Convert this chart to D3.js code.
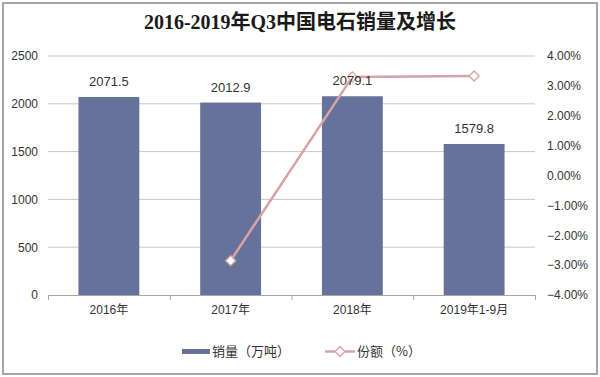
<!DOCTYPE html>
<html><head><meta charset="utf-8">
<script src="https://cdn.jsdelivr.net/npm/d3@7"></script>
<style>body{margin:0;background:#fff}svg{display:block}</style>
</head><body>
<svg id="c" width="600" height="377"></svg>
<script>
const categories = ["2016年","2017年","2018年","2019年1-9月"];
const sales = [2071.5, 2012.9, 2079.1, 1579.8];
const share = [null, -2.85, 3.30, 3.33];
const leftTicks = [0,500,1000,1500,2000,2500];
const rightTicks = [-4,-3,-2,-1,0,1,2,3,4];
const title = "2016-2019年Q3中国电石销量及增长";
const legendBar = "销量（万吨）";
const legendLine = "份额（%）";

const svg = d3.select("#c");
const W=600,H=377;
const L=48,R=535,T=56,B=295;
const barColor="#67729a", lineColor="#d9a3a5", gridColor="#c8c8c8";
const sans="Arial, 'Liberation Sans', 'Noto Sans CJK SC', sans-serif";

svg.append("rect").attr("x",3).attr("y",3).attr("width",W-6).attr("height",H-6)
  .attr("fill","#fff").attr("stroke","#a6a6a6").attr("stroke-width",2);

svg.append("text").attr("x",300).attr("y",29).attr("text-anchor","middle")
  .attr("font-family","'Liberation Serif','Noto Sans CJK SC',serif").attr("font-weight","bold")
  .attr("font-size",20).attr("fill","#1a1a1a").text(title);

const x = d3.scaleBand().domain(categories).range([L,R]).paddingInner(0.5).paddingOuter(0.25);
const xb = d3.scaleBand().domain(categories).range([L,R]);
const y = d3.scaleLinear().domain([0,2500]).range([B,T]);
const y2 = d3.scaleLinear().domain([-4,4]).range([B,T]);

// gridlines
svg.append("g").selectAll("line").data(leftTicks.filter(d=>d>0)).join("line")
  .attr("x1",L).attr("x2",R).attr("y1",d=>y(d)).attr("y2",d=>y(d))
  .attr("stroke",gridColor).attr("stroke-width",1);

// left axis labels
const ly = d3.axisLeft(y).tickValues(leftTicks).tickSize(0).tickPadding(10).tickFormat(d3.format("d"));
const gl = svg.append("g").attr("transform",`translate(${L},0)`).call(ly);
gl.select(".domain").remove();
gl.selectAll("text").attr("font-family",sans).attr("font-size",12).attr("fill","#333");

// right axis labels
const ry = d3.axisRight(y2).tickValues(rightTicks).tickSize(0).tickPadding(12)
  .tickFormat(d=>d3.format(".2f")(d)+"%");
const gr = svg.append("g").attr("transform",`translate(${R},0)`).call(ry);
gr.select(".domain").remove();
gr.selectAll("text").attr("font-family",sans).attr("font-size",12).attr("fill","#333");

// bars
svg.append("g").selectAll("rect").data(sales).join("rect")
  .attr("x",(d,i)=>x(categories[i])).attr("width",x.bandwidth())
  .attr("y",d=>y(d)).attr("height",d=>B-y(d)).attr("fill",barColor);

// x axis
const xa = d3.axisBottom(xb).tickSize(0).tickPadding(10);
const gx = svg.append("g").attr("transform",`translate(0,${B})`).call(xa);
gx.select(".domain").attr("stroke","#a6a6a6");
gx.selectAll("text").attr("font-family",sans).attr("font-size",12).attr("fill","#333");
svg.append("g").selectAll("line").data(categories.concat(["_end"])).join("line")
  .attr("x1",(d,i)=>L+i*xb.step()+0.5).attr("x2",(d,i)=>L+i*xb.step()+0.5)
  .attr("y1",B).attr("y2",B+5).attr("stroke","#a6a6a6");

// line
const pts = share.map((v,i)=>({v,c:categories[i]})).filter(d=>d.v!==null);
const line = d3.line().x(d=>xb(d.c)+xb.bandwidth()/2).y(d=>y2(d.v));
svg.append("path").datum(pts).attr("d",line).attr("fill","none")
  .attr("stroke",lineColor).attr("stroke-width",2.5);
const diamond = d3.symbol().type(d3.symbolSquare).size(50);
svg.append("g").selectAll("path").data(pts).join("path")
  .attr("d",diamond)
  .attr("transform",d=>`translate(${xb(d.c)+xb.bandwidth()/2},${y2(d.v)}) rotate(45)`)
  .attr("fill","#fff").attr("stroke",lineColor).attr("stroke-width",1.3);

// data labels
svg.append("g").selectAll("text").data(sales).join("text")
  .attr("x",(d,i)=>xb(categories[i])+xb.bandwidth()/2).attr("y",d=>y(d)-11)
  .attr("text-anchor","middle").attr("font-family",sans).attr("font-size",13).attr("fill","#333")
  .text(d=>d3.format(".1f")(d));

// legend
const lg = svg.append("g");
lg.append("rect").attr("x",182).attr("y",349).attr("width",28).attr("height",5).attr("fill",barColor);
lg.append("text").attr("x",212).attr("y",356).attr("font-family","'Noto Sans CJK SC',sans-serif")
  .attr("font-size",13).attr("fill","#333").text(legendBar);
lg.append("line").attr("x1",325).attr("x2",355).attr("y1",351.5).attr("y2",351.5)
  .attr("stroke",lineColor).attr("stroke-width",2.5);
lg.append("path").attr("d",diamond).attr("transform","translate(340,351.5) rotate(45)")
  .attr("fill","#fff").attr("stroke",lineColor).attr("stroke-width",1.3);
lg.append("text").attr("x",357).attr("y",356).attr("font-family","'Noto Sans CJK SC',sans-serif")
  .attr("font-size",13).attr("fill","#333").text(legendLine);
</script>
</body></html>
